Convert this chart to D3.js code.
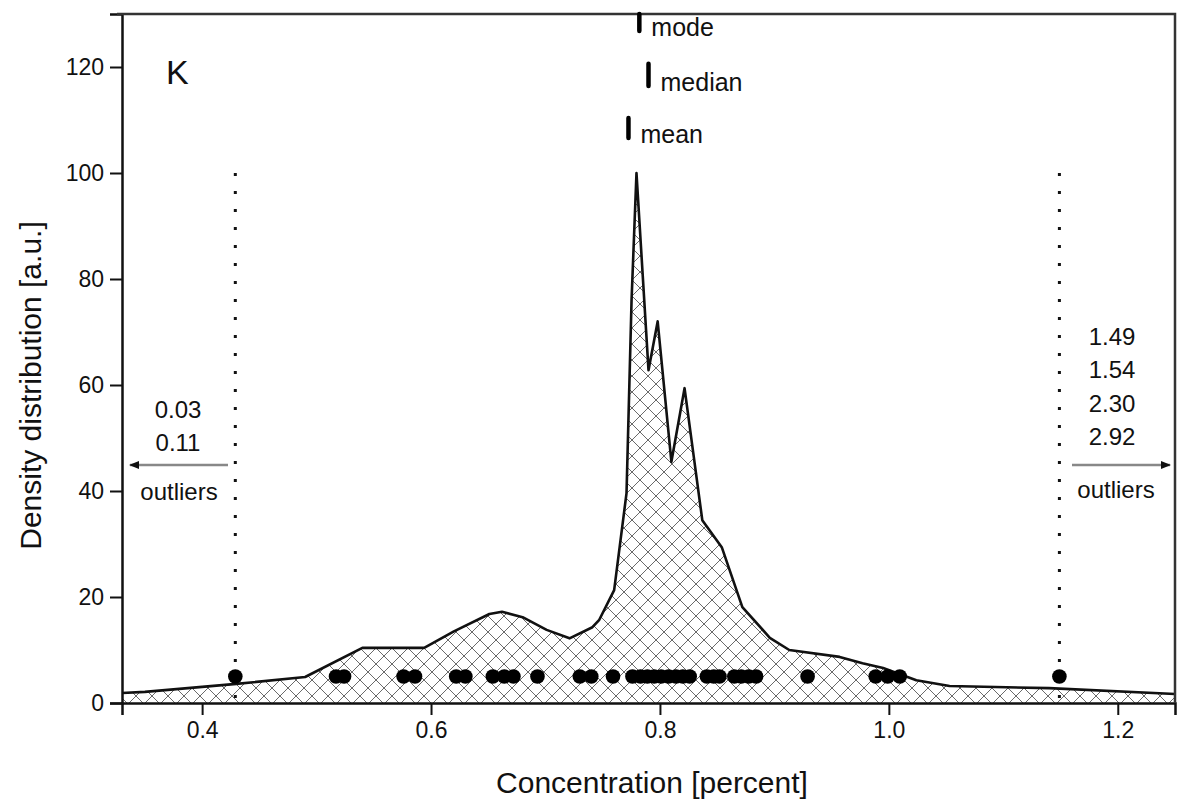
<!DOCTYPE html>
<html>
<head>
<meta charset="utf-8">
<script src="https://cdn.jsdelivr.net/npm/d3@7"></script>
<style>
  body { margin: 0; background: #fff; }
  text { font-family: "Liberation Sans", Arial, sans-serif; fill: #111; }
</style>
</head>
<body>
<svg id="chart" width="1177" height="802"></svg>
<script>
// density curve (concentration, density)
var densX = [0.33, 0.35, 0.43, 0.49, 0.54, 0.594, 0.62, 0.651, 0.662, 0.68, 0.701, 0.721, 0.741, 0.747,
             0.760, 0.7708, 0.7752, 0.7795, 0.790, 0.798, 0.810, 0.8215, 0.837, 0.854, 0.872, 0.896,
             0.913, 0.957, 0.977, 0.995, 1.024, 1.053, 1.14, 1.25];
var densY = [1.9, 2.1, 3.6, 4.9, 10.4, 10.4, 13.5, 16.8, 17.2, 16.2, 13.8, 12.2, 14.3, 15.7,
             21.3, 39.6, 76, 100, 62.8, 72, 45.5, 59.4, 34.5, 29.4, 18.1, 12.3,
             10, 8.7, 7.5, 6.6, 4.3, 3.2, 2.8, 1.7];

// individual measurements shown as dots
var samples = [0.517, 0.524, 0.576, 0.586, 0.622, 0.630, 0.654, 0.664, 0.672, 0.693, 0.730, 0.740,
               0.759, 0.776, 0.783, 0.789, 0.795, 0.801, 0.8075, 0.814, 0.820, 0.826, 0.841, 0.847,
               0.852, 0.865, 0.871, 0.8775, 0.884, 0.929, 0.9885, 0.999, 1.0095];
var sampleLevel = 5;
var outlierLimits = [0.429, 1.149];

var statNames = ['mode', 'median', 'mean'];
var statValues = [0.782, 0.790, 0.7725];

var leftOutliers = ['0.03', '0.11'];
var rightOutliers = ['1.49', '1.54', '2.30', '2.92'];

var xTicks = [0.4, 0.6, 0.8, 1.0, 1.2];
var yTicks = [0, 20, 40, 60, 80, 100, 120];

var svg = d3.select('#chart');
var width = +svg.attr('width');
var height = +svg.attr('height');
var margin = {left: 122, right: 2, top: 14, bottom: 99};

var x = d3.scaleLinear().domain([0.33, 1.25]).range([margin.left, width - margin.right]);
var y = d3.scaleLinear().domain([0, 130]).range([height - margin.bottom, margin.top]);

var defs = svg.append('defs');
var pat = defs.append('pattern')
    .attr('id', 'hatch')
    .attr('patternUnits', 'userSpaceOnUse')
    .attr('width', 16).attr('height', 16);
pat.append('rect').attr('width', 16).attr('height', 16).attr('fill', '#fff');
pat.append('path')
    .attr('d', 'M0,0L16,16M16,0L0,16M-1,15L1,17M15,-1L17,1M-1,1L1,-1M15,17L17,15')
    .attr('stroke', '#6a6a6a').attr('stroke-width', 1).attr('fill', 'none');

var marker = defs.append('marker')
    .attr('id', 'arrow')
    .attr('viewBox', '0 0 10 10')
    .attr('refX', 9).attr('refY', 5)
    .attr('markerWidth', 16).attr('markerHeight', 10)
    .attr('markerUnits', 'userSpaceOnUse')
    .attr('orient', 'auto');
marker.append('path').attr('d', 'M0,1L10,5L0,9Z').attr('fill', '#111');

var dens = densX.map((d, i) => ({x: d, y: densY[i]}));

svg.append('path')
    .datum(dens)
    .attr('d', d3.area().x(d => x(d.x)).y0(y(0)).y1(d => y(d.y)))
    .attr('fill', 'url(#hatch)');

svg.append('path')
    .datum(dens)
    .attr('d', d3.line().x(d => x(d.x)).y(d => y(d.y)))
    .attr('fill', 'none')
    .attr('stroke', '#111')
    .attr('stroke-width', 2.6)
    .attr('stroke-linejoin', 'round');

// dotted limits
svg.selectAll('.limit').data(outlierLimits).enter().append('line')
    .attr('class', 'limit')
    .attr('x1', d => x(d)).attr('x2', d => x(d))
    .attr('y1', y(100)).attr('y2', y(0))
    .attr('stroke', '#111')
    .attr('stroke-width', 3)
    .attr('stroke-dasharray', '3,15');

svg.selectAll('.sample').data(samples.concat(outlierLimits)).enter().append('circle')
    .attr('class', 'sample')
    .attr('cx', d => x(d))
    .attr('cy', y(sampleLevel))
    .attr('r', 7.3)
    .attr('fill', '#000');

// axes
var gx = svg.append('g').attr('transform', `translate(0,${y(0)})`);
gx.call(d3.axisBottom(x).tickValues(d3.range(0.36, 1.25, 0.04)).tickSize(6).tickFormat(''));
gx.call(d3.axisBottom(x).tickValues(xTicks).tickSize(12).tickPadding(7).tickFormat(d3.format('.1f')));

var gy = svg.append('g').attr('transform', `translate(${margin.left},0)`);
gy.call(d3.axisLeft(y).tickValues(d3.range(10, 130, 20)).tickSize(6).tickFormat(''));
gy.call(d3.axisLeft(y).tickValues(yTicks).tickSize(12).tickPadding(6).tickFormat(d3.format('d')));

svg.selectAll('.domain').attr('stroke', '#111').attr('stroke-width', 2.5);
svg.selectAll('.tick line').attr('stroke', '#111').attr('stroke-width', 2);
svg.selectAll('.tick text').style('font-size', '23px').attr('fill', '#222')
    .style('font-family', '"Liberation Sans", Arial, sans-serif');

// frame top and right
svg.append('path')
    .attr('d', `M${margin.left - 5},${margin.top}H${width - margin.right}V${y(0)}`)
    .attr('fill', 'none').attr('stroke', '#333').attr('stroke-width', 2.5);

// mode, median, mean markers
var statLevels = [[126.8, 130], [116.4, 120.6], [106.6, 110.4]];
statNames.forEach((name, i) => {
    svg.append('line')
        .attr('x1', x(statValues[i])).attr('x2', x(statValues[i]))
        .attr('y1', y(statLevels[i][0])).attr('y2', y(statLevels[i][1]))
        .attr('stroke', '#000').attr('stroke-width', 4.5).attr('stroke-linecap', 'round');
    svg.append('text')
        .attr('x', x(statValues[i]) + 12)
        .attr('y', y(statLevels[i][0]) + 5)
        .style('font-size', '25px')
        .text(name);
});

svg.append('text').attr('x', 166).attr('y', 84).style('font-size', '34px').text('K');

// outlier notes
svg.selectAll('.lo').data(leftOutliers).enter().append('text')
    .attr('x', 178).attr('y', (d, i) => 418 + i * 33)
    .attr('text-anchor', 'middle').style('font-size', '24px').text(d => d);
svg.append('text').attr('x', 179).attr('y', 500).attr('text-anchor', 'middle')
    .style('font-size', '24px').text('outliers');
svg.append('line').attr('x1', 228).attr('x2', 130).attr('y1', 465).attr('y2', 465)
    .attr('stroke', '#888').attr('stroke-width', 2.5).attr('marker-end', 'url(#arrow)');

svg.selectAll('.ro').data(rightOutliers).enter().append('text')
    .attr('x', 1112).attr('y', (d, i) => 345 + i * 33.3)
    .attr('text-anchor', 'middle').style('font-size', '24px').text(d => d);
svg.append('text').attr('x', 1116).attr('y', 498).attr('text-anchor', 'middle')
    .style('font-size', '24px').text('outliers');
svg.append('line').attr('x1', 1072).attr('x2', 1170).attr('y1', 465).attr('y2', 465)
    .attr('stroke', '#888').attr('stroke-width', 2.5).attr('marker-end', 'url(#arrow)');

// axis titles
svg.append('text').attr('x', 652).attr('y', 793).attr('text-anchor', 'middle')
    .style('font-size', '30px').text('Concentration [percent]');
svg.append('text')
    .attr('transform', `translate(41,${(margin.top + y(0)) / 2 + 27}) rotate(-90)`)
    .attr('text-anchor', 'middle')
    .style('font-size', '30px').text('Density distribution [a.u.]');
</script>
</body>
</html>
